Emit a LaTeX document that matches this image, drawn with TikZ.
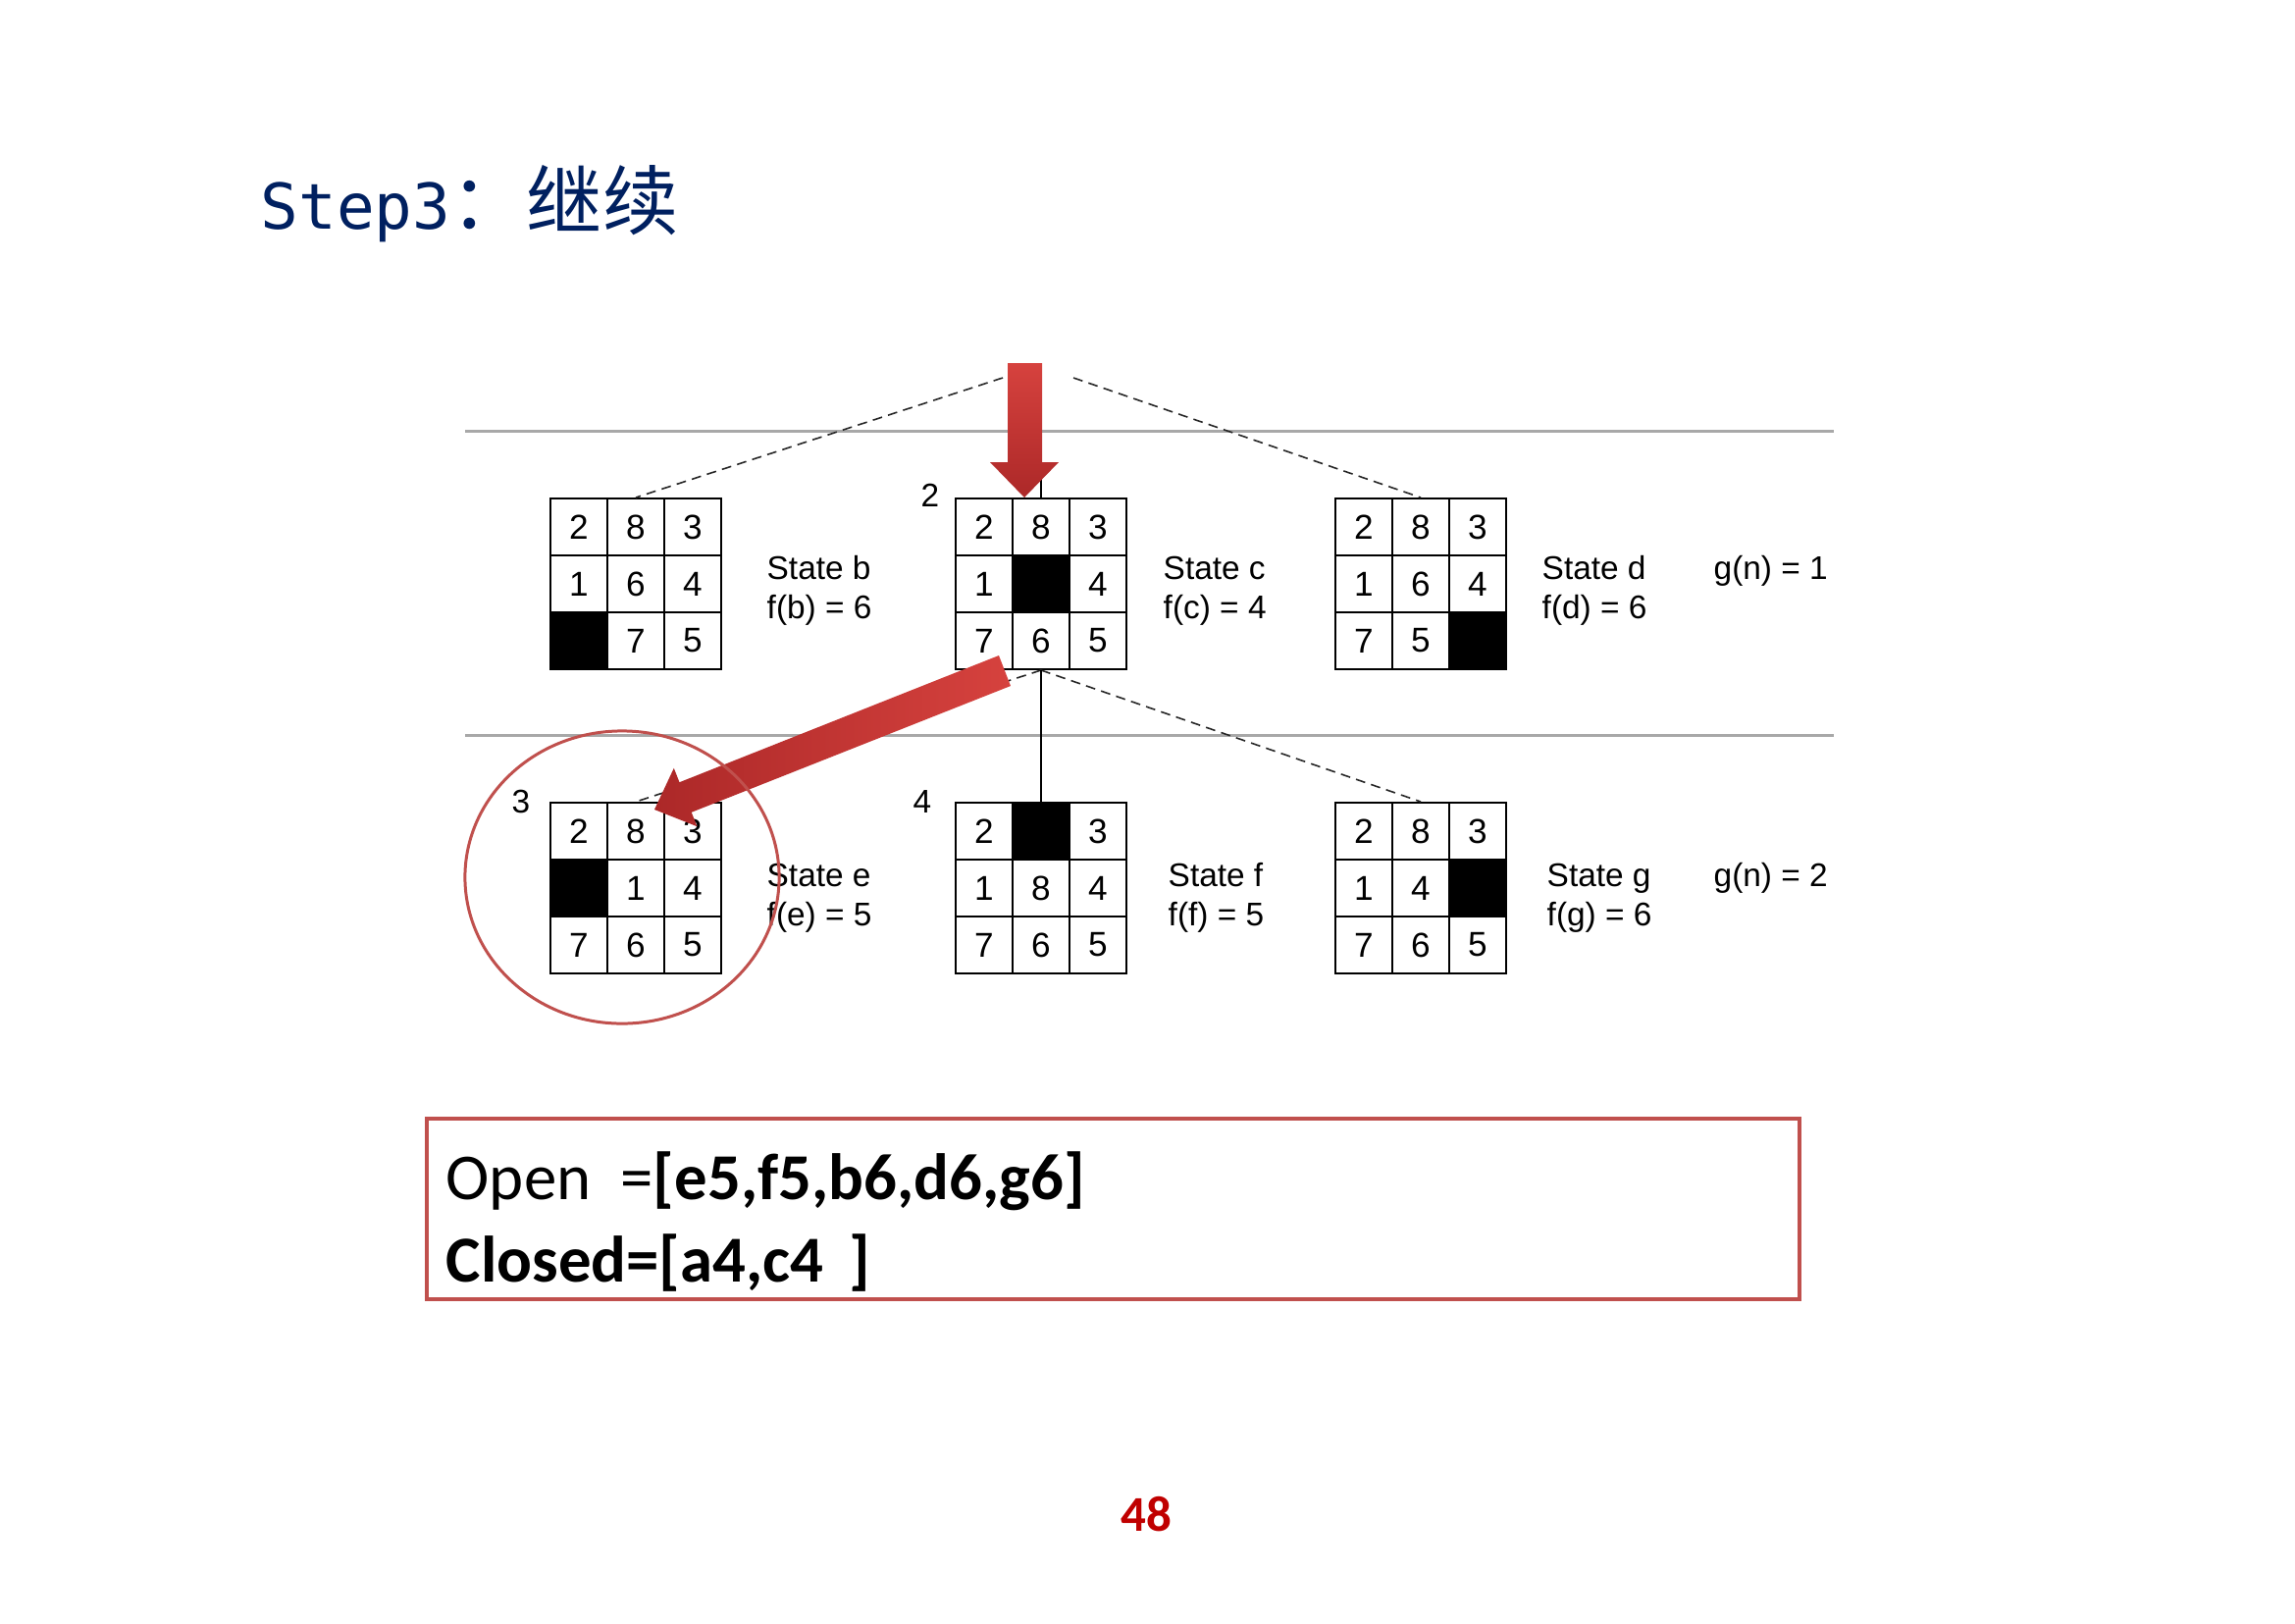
\documentclass[tikz,border=0pt]{standalone}
\usepackage{fontspec}
\setmainfont{Liberation Sans}
\newfontfamily\cjkfont{Noto Sans CJK SC}
\newfontfamily\titlemono{DejaVu Sans Mono}
\newfontfamily\calfont{Carlito}
\definecolor{titleblue}{RGB}{0,32,96}
\definecolor{boxred}{RGB}{192,80,77}
\definecolor{arrowlight}{RGB}{214,66,62}
\definecolor{arrowdark}{RGB}{172,40,40}
\definecolor{pagered}{RGB}{192,0,0}
\definecolor{rulegray}{RGB}{168,168,168}
\tikzset{
  cell/.style={draw=black, line width=0.55pt, minimum size=0.58cm, inner sep=0pt,
    font=\fontsize{10}{11}\selectfont},
  blankcell/.style={cell, fill=black},
  lbl/.style={anchor=base west, inner sep=0pt, font=\fontsize{9.5}{11}\selectfont},
  numlbl/.style={inner sep=0pt, font=\fontsize{9.5}{11}\selectfont},
  rule/.style={draw=rulegray, line width=0.85pt},
  dashlink/.style={draw=black!85, line width=0.45pt, dash pattern=on 2.8pt off 1.8pt},
  solidlink/.style={draw=black, line width=0.55pt},
  boxtext/.style={anchor=base west, inner sep=0pt, font=\calfont\fontsize{19}{23}\selectfont}
}
\newcommand\puzzle[4]{%
  \foreach \v [count=\i from 0] in {#4} {%
    \pgfmathtruncatemacro\prow{div(\i,3)}%
    \pgfmathtruncatemacro\pcol{mod(\i,3)}%
    \ifnum\v=0
      \node[blankcell] (#1-\i) at ({#2+29+58*\pcol},{#3+29+58*\prow}) {};
    \else
      \node[cell] (#1-\i) at ({#2+29+58*\pcol},{#3+29+58*\prow}) {\v};
    \fi
  }%
}
\begin{document}
\begin{tikzpicture}[x=0.01cm, y=-0.01cm]
\useasboundingbox (0,0) rectangle (2339,1654);
\fill[white] (0,0) rectangle (2339,1654);

% title
\node[anchor=base west, inner sep=0pt, text=titleblue] (title) at (265,233)
  {\titlemono\fontsize{18.3}{24}\selectfont Step3{\cjkfont\fontsize{22}{26}\selectfont ：继续}};

% separator rules
\draw[rule] (474,439) -- (1869,439);
\draw[rule] (474,749) -- (1869,749);

% puzzles
\puzzle{b}{561}{508}{2,8,3,1,6,4,0,7,5}
\puzzle{c}{974}{508}{2,8,3,1,0,4,7,6,5}
\puzzle{d}{1361}{508}{2,8,3,1,6,4,7,5,0}
\puzzle{e}{561}{818}{2,8,3,0,1,4,7,6,5}
\puzzle{f}{974}{818}{2,0,3,1,8,4,7,6,5}
\puzzle{g}{1361}{818}{2,8,3,1,4,0,7,6,5}

% links
\coordinate (pl) at (1022,385);
\coordinate (pr) at (1094,385);
\coordinate (pc) at (1061,385);
\draw[dashlink] (pl) -- (b-1.north);
\draw[dashlink] (pr) -- (d-1.north);
\draw[solidlink] (pc) -- (c-1.north);
\draw[dashlink] (c-7.south) -- (e-1.north);
\draw[dashlink] (c-7.south) -- (g-1.north);
\draw[solidlink] (c-7.south) -- (f-1.north);

% labels
\node[lbl] (sb) at (781,590) {State b};
\node[lbl] (fb) at (781,630) {f(b) = 6};
\node[lbl] (sc) at (1185,590) {State c};
\node[lbl] (fc) at (1185,630) {f(c) = 4};
\node[lbl] (sd) at (1571,590) {State d};
\node[lbl] (fd) at (1571,630) {f(d) = 6};
\node[lbl] (g1) at (1746,590) {g(n) = 1};
\node[lbl] (se) at (781,903) {State e};
\node[lbl] (fe) at (781,943) {f(e) = 5};
\node[lbl] (sf) at (1190,903) {State f};
\node[lbl] (ff) at (1190,943) {f(f) = 5};
\node[lbl] (sg) at (1576,903) {State g};
\node[lbl] (fg) at (1576,943) {f(g) = 6};
\node[lbl] (g2) at (1746,903) {g(n) = 2};
\node[numlbl] (n2) at (948,505) {2};
\node[numlbl] (n3) at (531,817) {3};
\node[numlbl] (n4) at (940,817) {4};

% red arrows
\shade[top color=arrowlight, bottom color=arrowdark]
  (1027,370) -- (1062,370) -- (1062,471) -- (1079,471) -- (1044,507)
  -- (1009,471) -- (1027,471) -- cycle;
\shade[left color=arrowdark, right color=arrowlight]
  (667,825) -- (710.4,842.2) -- (704.7,827.8) -- (1030,699) -- (1018,668)
  -- (692.5,797.2) -- (686.8,782.8) -- cycle;

% circle round state e
\draw[boxred, line width=0.85pt] (634,894) ellipse [x radius=1.6cm, y radius=1.49cm];

% open / closed box
\node[draw=boxred, line width=1.2pt, minimum width=13.98cm, minimum height=1.84cm,
  inner sep=0pt, anchor=north west] (listbox) at (433,1138) {};
\node[boxtext] (openl) at (454,1222) {Open\ \ =\textbf{[e5,f5,b6,d6,g6]}};
\node[boxtext] (closedl) at (454,1306) {\textbf{Closed=[a4,c4\ \,]}};

% page number
\node[anchor=base, inner sep=0pt, text=pagered, font=\calfont\bfseries\fontsize{14.5}{17}\selectfont] (page) at (1168,1560) {48};
\end{tikzpicture}
\end{document}
